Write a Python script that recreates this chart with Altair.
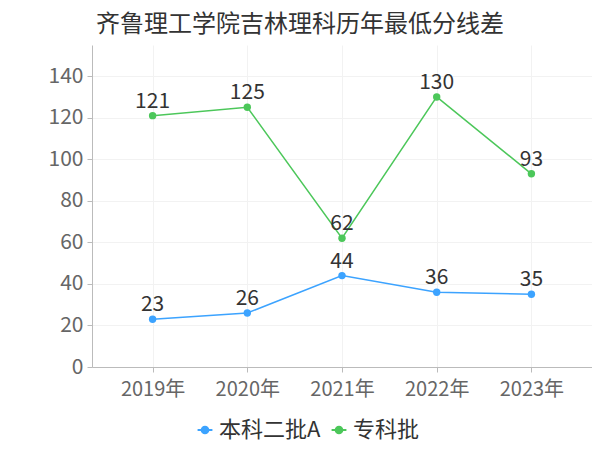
import altair as alt
import pandas as pd

years = ["2019年", "2020年", "2021年", "2022年", "2023年"]
series_names = ["本科二批A", "专科批"]
benke = [23, 26, 44, 36, 35]
zhuanke = [121, 125, 62, 130, 93]
colors = ["#3ca3ff", "#4cc75a"]

rows = []
for y, v in zip(years, benke):
    rows.append({"year": y, "value": v, "series": series_names[0]})
for y, v in zip(years, zhuanke):
    rows.append({"year": y, "value": v, "series": series_names[1]})
df = pd.DataFrame(rows)

FONT = "Noto Sans CJK SC"

x = alt.X("year:N", sort=years, title=None,
          scale=alt.Scale(type="point", padding=0.64),
          axis=alt.Axis(labelAngle=0, labelFontSize=20, labelColor="#666",
                        labelFont=FONT, labelPadding=7, domainColor="#bbb",
                        tickColor="#bbb", tickSize=5, grid=True,
                        gridColor="#f2f2f2"))
y = alt.Y("value:Q", title=None,
          scale=alt.Scale(domain=[0, 155], nice=False),
          axis=alt.Axis(values=[0, 20, 40, 60, 80, 100, 120, 140],
                        labelFontSize=21, labelColor="#666", labelFont=FONT,
                        domainColor="#bbb", tickColor="#bbb", tickSize=5,
                        labelPadding=4, gridColor="#f2f2f2"))
color = alt.Color("series:N", sort=series_names,
                  scale=alt.Scale(domain=series_names, range=colors),
                  legend=alt.Legend(orient="none", direction="horizontal",
                                    legendX=102, legendY=374,
                                    title=None, labelFontSize=22,
                                    labelFont=FONT, labelColor="#333",
                                    symbolType="M-1,0 L-0.45,0 M0.45,0 L1,0 M-0.45,0 A0.45,0.45 0 1,1 0.45,0 A0.45,0.45 0 1,1 -0.45,0 Z",
                                    symbolSize=220, symbolStrokeWidth=2,
                                    labelOffset=3, columnPadding=6))

base = alt.Chart(df).encode(x=x, y=y, color=color)
line = base.mark_line(strokeWidth=1.5)
pts = base.mark_point(filled=True, size=55, opacity=1)
labels = alt.Chart(df).mark_text(dy=-14, fontSize=21, font=FONT).encode(
    x=x, y=y, text="value:Q", color=alt.value("#333"))

chart = alt.layer(line, pts, labels).properties(
    width=500, height=322,
    autosize=alt.AutoSizeParams(type="none"),
    padding={"left": 84, "top": 37, "right": 0, "bottom": 75},
    title=alt.TitleParams("齐鲁理工学院吉林理科历年最低分线差", anchor="start",
                          frame="group",
                          fontSize=24, font=FONT, color="#333",
                          fontWeight="normal", dx=4, offset=8),
).configure_view(stroke=None)

chart.save("out.html", embed_options={"renderer": "svg", "actions": False})
